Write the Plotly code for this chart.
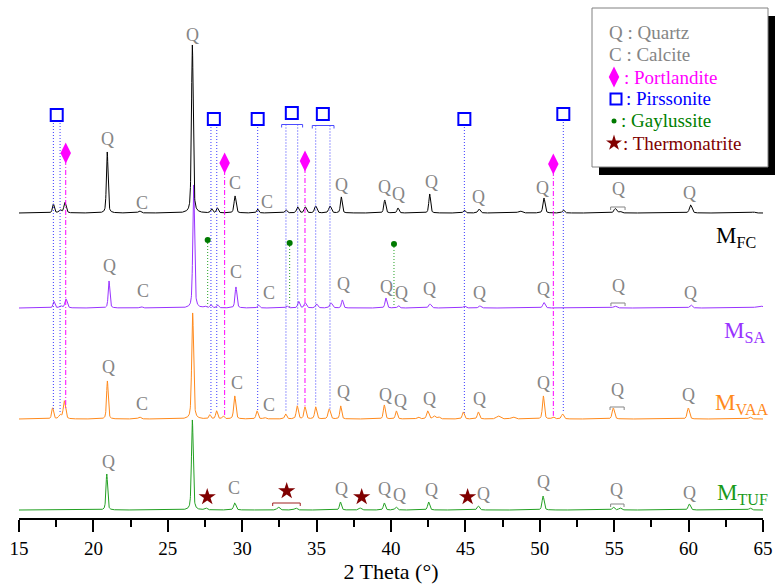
import numpy as np
import plotly.graph_objects as go

# ---------------- data ----------------
x_ticks = [15, 20, 25, 30, 35, 40, 45, 50, 55, 60, 65]

# peak lists: 2-theta position, intensity (a.u.), FWHM (deg)
fc_pos = [17.31, 17.76, 18.09, 20.93, 23.1, 26.65, 27.95, 28.33, 29.52, 31.04, 32.94, 33.73, 34.24,
          34.94, 35.9, 36.66, 39.58, 40.47, 42.6, 44.93, 45.92, 48.67, 50.28, 51.58, 55.07, 55.4, 60.14, 64.35]
fc_int = [9, 3, 10.5, 61, 2, 168, 4, 5, 17, 4, 3, 6, 6,
          7, 7, 16, 13, 5, 19, 3, 4, 2, 15, 3, 4.5, 1.5, 8, 1]
fc_fwhm = [0.15, 0.2, 0.18, 0.13, 0.2, 0.14, 0.15, 0.15, 0.16, 0.15, 0.18, 0.18, 0.18,
           0.18, 0.2, 0.14, 0.15, 0.15, 0.14, 0.15, 0.18, 0.3, 0.16, 0.18, 0.2, 0.2, 0.2, 0.25]

sa_pos = [17.35, 17.8, 18.16, 21.05, 23.2, 26.74, 27.5, 27.9, 28.35, 29.58, 31.1, 33.0, 33.8, 34.24,
          35.0, 35.97, 36.73, 39.66, 40.5, 42.62, 44.93, 45.98, 50.28, 55.05, 60.16, 64.8]
sa_int = [6.5, 2, 9, 27, 1.5, 123, 1.5, 3, 3, 21, 3, 2, 6.5, 5,
          4, 5, 8, 10, 2.5, 4, 2, 2, 5.5, 2, 3, 2]
sa_fwhm = [0.15, 0.2, 0.18, 0.13, 0.2, 0.14, 0.2, 0.15, 0.15, 0.15, 0.15, 0.18, 0.16, 0.18,
           0.18, 0.2, 0.14, 0.15, 0.15, 0.2, 0.2, 0.2, 0.18, 0.25, 0.2, 0.6]

vaa_pos = [17.26, 17.76, 18.05, 20.94, 23.1, 26.67, 27.83, 28.28, 28.73, 29.5, 31.0, 31.5, 32.92, 33.7,
           34.22, 34.94, 35.85, 36.62, 39.55, 40.36, 41.83, 42.47, 42.9, 43.2, 44.86, 45.87, 47.21, 48.2,
           50.24, 50.9, 51.53, 54.94, 59.98, 64.13]
vaa_int = [11, 4, 18, 38, 2, 106, 4, 8, 3, 23, 8, 1.5, 5, 13,
           12, 12, 10, 13, 14, 8, 2, 8, 3, 2, 7, 7, 3, 2,
           23, 2, 5, 11, 11, 2]
vaa_fwhm = [0.15, 0.2, 0.18, 0.13, 0.2, 0.15, 0.15, 0.15, 0.15, 0.16, 0.16, 0.2, 0.16, 0.16,
            0.16, 0.16, 0.18, 0.14, 0.15, 0.15, 0.2, 0.18, 0.2, 0.2, 0.16, 0.16, 0.3, 0.3,
            0.15, 0.2, 0.18, 0.18, 0.18, 0.2]

tuf_pos = [20.9, 26.65, 27.55, 29.5, 32.43, 33.6, 36.6, 37.92, 39.55, 40.34, 42.53, 45.87, 50.22,
           54.94, 55.4, 60.05, 64.13]
tuf_int = [36, 90, 2, 7, 3, 2, 8, 2, 7, 3, 8, 4, 14, 3, 2, 6, 2]
tuf_fwhm = [0.13, 0.14, 0.2, 0.18, 0.2, 0.2, 0.15, 0.2, 0.15, 0.18, 0.16, 0.18, 0.16,
            0.18, 0.2, 0.18, 0.2]

series_names = ["M<sub>FC</sub>", "M<sub>SA</sub>", "M<sub>VAA</sub>", "M<sub>TUF</sub>"]
series_offsets = [305, 210, 99, 8]

# phase labels per pattern: (letter, 2-theta, height above the pattern's baseline)
fc_labels = [("Q", 26.67, 178), ("Q", 20.93, 74), ("C", 23.29, 10), ("C", 29.52, 30), ("C", 31.69, 11),
             ("Q", 36.64, 28), ("Q", 39.55, 26), ("Q", 40.49, 19), ("Q", 42.73, 31), ("Q", 45.91, 16),
             ("Q", 50.17, 25), ("Q", 55.28, 24), ("Q", 60.09, 20)]
sa_labels = [("Q", 21.05, 42), ("C", 23.31, 17), ("C", 29.58, 36), ("C", 31.78, 15), ("Q", 36.84, 24),
             ("Q", 39.71, 21), ("Q", 40.72, 15), ("Q", 42.62, 19), ("Q", 45.98, 15), ("Q", 50.24, 19),
             ("Q", 55.32, 22), ("Q", 60.16, 15)]
vaa_labels = [("Q", 21.0, 52), ("C", 23.25, 15), ("C", 29.63, 36), ("C", 31.82, 14), ("Q", 36.8, 27),
              ("Q", 39.66, 24), ("Q", 40.65, 18), ("Q", 42.62, 20), ("Q", 45.98, 20), ("Q", 50.24, 36),
              ("Q", 55.24, 29), ("Q", 59.98, 24)]
tuf_labels = [("Q", 21.0, 48), ("C", 29.47, 22), ("Q", 36.64, 21), ("Q", 39.55, 21), ("Q", 40.6, 15),
              ("Q", 42.73, 20), ("Q", 46.2, 16), ("Q", 50.24, 28), ("Q", 55.17, 20), ("Q", 60.09, 17)]
# quartz doublet bracket near 55 deg: (start, end, height above baseline)
q_doublet = [(54.76, 55.73, 6), (54.78, 55.73, 5), (54.72, 55.67, 12), (54.76, 55.66, 6)]

# reference lines of minor phases
pirssonite_groups = [[17.31, 17.76], [27.9, 28.29], [31.04], [32.94, 33.73], [34.94, 35.9], [44.93], [51.58]]
pirssonite_level = [403, 399, 399, 405, 404, 399, 404]
pirssonite_bracket = [None, None, None, (32.65, 34.06), (34.71, 36.17), None, None]
portlandite_pos = [18.14, 28.82, 34.22, 50.91]
portlandite_level = [365, 355, 357, 354]
gaylussite_pos = [27.68, 33.19, 40.2]
gaylussite_level = [278, 275, 274]
thermonatrite_pos = [27.65, 32.99, 38.03, 45.15]
thermonatrite_level = [21, 27, 21, 21]
thermonatrite_range = (32.05, 33.9, 15)

# ---------------- build ----------------
SERIF = "Liberation Serif, Times New Roman, serif"
GRAY = "#858585"
colors = ["#000000", "#9933FF", "#FF8A1C", "#22A022"]
label_colors = ["#000000", "#9933FF", "#FF8A1C", "#1A9A1A"]

tt = np.linspace(15, 65, 5001)


def profile(x, pos, inten, fwhm, eta=0.45):
    x = np.asarray(x, dtype=float)
    y = np.zeros_like(x)
    for p, h, w in zip(pos, inten, fwhm):
        d = (x - p) / (w / 2.0)
        y += h * (eta / (1 + d * d) + (1 - eta) * np.exp(-np.log(2) * d * d))
    return y


peaks = [(fc_pos, fc_int, fc_fwhm), (sa_pos, sa_int, sa_fwhm),
         (vaa_pos, vaa_int, vaa_fwhm), (tuf_pos, tuf_int, tuf_fwhm)]

fig = go.Figure()

# patterns (bottom one first)
for i in [3, 2, 1, 0]:
    pos, inten, fw = peaks[i]
    fig.add_trace(go.Scatter(x=tt, y=profile(tt, pos, inten, fw) + series_offsets[i], mode="lines",
                             line=dict(color=colors[i], width=1), hoverinfo="skip", showlegend=False))


def vaa_curve(x):
    return series_offsets[2] + float(profile([x], vaa_pos, vaa_int, vaa_fwhm)[0])


def sa_curve(x):
    return series_offsets[1] + float(profile([x], sa_pos, sa_int, sa_fwhm)[0])


# Pirssonite dotted lines + squares
shapes = []
px_, py_ = [], []
mx, my = [], []
for grp, lvl, br in zip(pirssonite_groups, pirssonite_level, pirssonite_bracket):
    top = lvl - 11.5 if br else lvl - 8
    for g in grp:
        px_ += [g, g, None]
        py_ += [top, vaa_curve(g) + 2, None]
    mx.append(sum(grp) / len(grp))
    my.append(lvl)
    if br:
        shapes.append(dict(type="path", xref="x", yref="y",
                           path=f"M {br[0]},{top - 3} L {br[0]},{top} L {br[1]},{top} L {br[1]},{top - 3}",
                           line=dict(color="#4B4BFF", width=1)))
fig.add_trace(go.Scatter(x=px_, y=py_, mode="lines", line=dict(color="#3A3AFF", width=1, dash="1px,2px"),
                         hoverinfo="skip", showlegend=False))
fig.add_trace(go.Scatter(x=mx, y=my, mode="markers", cliponaxis=False,
                         marker=dict(symbol="square-open", size=12, color="#0000FF", line=dict(width=2)),
                         hoverinfo="skip", showlegend=False))

# Portlandite dash-dot lines + diamonds
lx, ly = [], []
for p, lvl in zip(portlandite_pos, portlandite_level):
    lx += [p, p, None]
    ly += [lvl - 7, vaa_curve(p) + 1, None]
fig.add_trace(go.Scatter(x=lx, y=ly, mode="lines", line=dict(color="#FF00FF", width=1, dash="5px,2px,1px,2px"),
                         hoverinfo="skip", showlegend=False))
fig.add_trace(go.Scatter(x=portlandite_pos, y=portlandite_level, mode="markers", cliponaxis=False,
                         marker=dict(symbol="diamond-tall", size=15, color="#FF00FF"),
                         hoverinfo="skip", showlegend=False))

# Gaylussite dotted lines + dots
lx, ly = [], []
for p, lvl in zip(gaylussite_pos, gaylussite_level):
    lx += [p, p, None]
    ly += [lvl, sa_curve(p) + 1, None]
fig.add_trace(go.Scatter(x=lx, y=ly, mode="lines", line=dict(color="#22A022", width=1, dash="1px,2px"),
                         hoverinfo="skip", showlegend=False))
fig.add_trace(go.Scatter(x=gaylussite_pos, y=gaylussite_level, mode="markers",
                         marker=dict(symbol="circle", size=6, color="#007A00"),
                         hoverinfo="skip", showlegend=False))

# Thermonatrite stars
fig.add_trace(go.Scatter(x=thermonatrite_pos, y=thermonatrite_level, mode="markers",
                         marker=dict(symbol="star", size=13, color="#800000"),
                         hoverinfo="skip", showlegend=False))
a, b, h = thermonatrite_range
shapes.append(dict(type="path", xref="x", yref="y",
                   path=f"M {a},{h - 3} L {a},{h} L {b},{h} L {b},{h - 3}",
                   line=dict(color="#A02020", width=1)))

# Q / C labels and quartz doublet brackets
annotations = []
for lbls, off, (a, b, h) in zip([fc_labels, sa_labels, vaa_labels, tuf_labels], series_offsets, q_doublet):
    for txt, x, hh in lbls:
        annotations.append(dict(x=x, y=off + hh, xref="x", yref="y", text=txt, showarrow=False,
                                yanchor="middle", font=dict(family=SERIF, size=18, color=GRAY)))
    yb = off + h
    shapes.append(dict(type="path", xref="x", yref="y",
                       path=f"M {a},{yb - 3} L {a},{yb} L {b},{yb} L {b},{yb - 3}",
                       line=dict(color=GRAY, width=1)))

# series names
name_pos = [(61.72, 281), (62.25, 186), (61.65, 114), (61.8, 24)]
for name, (x, y), c in zip(series_names, name_pos, label_colors):
    annotations.append(dict(x=x, y=y, xref="x", yref="y", text=name, showarrow=False, xanchor="left",
                            yanchor="middle", font=dict(family=SERIF, size=23, color=c)))

# legend box (paper coordinates of the plot area)
W, H = 744.0, 518.0


def pxp(px):
    return (px - 19) / W


def pyp(py):
    return (518 - py) / H


shapes.append(dict(type="rect", xref="paper", yref="paper", x0=pxp(599), x1=pxp(775), y0=pyp(175), y1=pyp(16),
                   fillcolor="#000000", line=dict(width=0), layer="below"))
shapes.append(dict(type="rect", xref="paper", yref="paper", x0=pxp(592), x1=pxp(768), y0=pyp(167), y1=pyp(8),
                   fillcolor="#FFFFFF", line=dict(color="#808080", width=1), layer="below"))

legend_items = [("Q : Quartz", GRAY, 607, 33), ("C : Calcite", GRAY, 607, 54),
                (": Portlandite", "#FF00FF", 622, 77), (": Pirssonite", "#0000FF", 624, 99),
                (": Gaylussite", "#008000", 619, 121), (": Thermonatrite", "#800000", 621, 143)]
for txt, c, x, y in legend_items:
    annotations.append(dict(x=pxp(x), y=pyp(y), xref="paper", yref="paper", text=txt, showarrow=False,
                            xanchor="left", yanchor="middle", font=dict(family=SERIF, size=19, color=c)))


def dx(px):
    return 15 + (px - 19) / 14.88


fig.add_trace(go.Scatter(x=[dx(614)], y=[518 - 77], mode="markers", cliponaxis=False,
                         marker=dict(symbol="diamond-tall", size=15, color="#FF00FF"), hoverinfo="skip", showlegend=False))
fig.add_trace(go.Scatter(x=[dx(616)], y=[518 - 99], mode="markers", cliponaxis=False,
                         marker=dict(symbol="square-open", size=11, color="#0000FF", line=dict(width=2)),
                         hoverinfo="skip", showlegend=False))
fig.add_trace(go.Scatter(x=[dx(614)], y=[518 - 121], mode="markers", cliponaxis=False,
                         marker=dict(symbol="circle", size=5, color="#007A00"), hoverinfo="skip", showlegend=False))
fig.add_trace(go.Scatter(x=[dx(614)], y=[518 - 143], mode="markers", cliponaxis=False,
                         marker=dict(symbol="star", size=12, color="#800000"), hoverinfo="skip", showlegend=False))

fig.update_layout(
    width=775, height=584,
    margin=dict(l=19, r=12, t=0, b=66),
    paper_bgcolor="white", plot_bgcolor="rgba(0,0,0,0)",
    showlegend=False, hovermode=False,
    shapes=shapes, annotations=annotations,
    xaxis=dict(range=[15, 65], tickmode="array", tickvals=x_ticks, ticktext=[str(v) for v in x_ticks],
               showline=True, linecolor="black", linewidth=2, ticks="outside", ticklen=12, tickwidth=2,
               tickcolor="black", showgrid=False, zeroline=False,
               minor=dict(dtick=2.5, tick0=15, ticks="outside", ticklen=7, tickwidth=2, tickcolor="black",
                          showgrid=False),
               tickfont=dict(family=SERIF, size=19, color="black"),
               title=dict(text="2 Theta (°)", font=dict(family=SERIF, size=22, color="black"), standoff=4)),
    yaxis=dict(range=[0, 518], visible=False, fixedrange=True),
)

fig.write_html("out.html", config={"displayModeBar": False, "staticPlot": True},
               post_script="document.body.style.margin='0';document.body.style.overflow='hidden';")
